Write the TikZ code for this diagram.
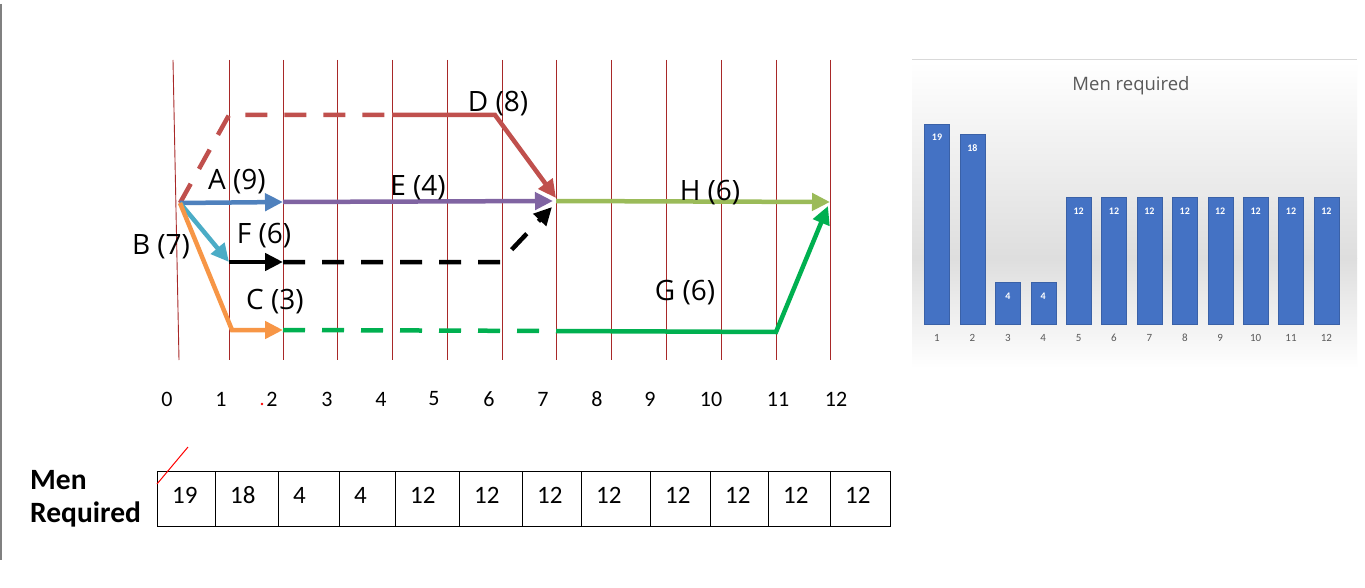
\documentclass[tikz,border=0pt]{standalone}
\usepackage{fontspec}
\setmainfont{Open Sans}
\newfontfamily\calfont{Carlito}
\usetikzlibrary{arrows.meta}

\definecolor{dred}{RGB}{192,80,77}
\definecolor{ablue}{RGB}{79,129,189}
\definecolor{epurple}{RGB}{128,100,162}
\definecolor{hgreen}{RGB}{155,187,89}
\definecolor{fcyan}{RGB}{75,172,198}
\definecolor{borange}{RGB}{247,150,70}
\definecolor{ggreen}{RGB}{0,176,80}
\definecolor{gridred}{RGB}{168,40,40}
\definecolor{barblue}{RGB}{68,114,196}
\definecolor{chartgray}{RGB}{89,89,89}

\begin{document}
\begin{tikzpicture}[
  x=1pt, y=-1pt,
  every node/.style={inner sep=0pt},
  grid/.style={gridred, line width=0.9pt},
  act/.style={line width=4.5pt, -{Triangle[length=18pt,width=17pt]}},
  plain/.style={line width=4.5pt},
  dsh/.style={dash pattern=on 22pt off 17pt},
  lab/.style={font=\fontsize{28}{32}\selectfont},
  tick/.style={font=\calfont\fontsize{22}{26}\selectfont},
  cell/.style={draw, line width=1.3pt, minimum height=55pt, anchor=north west},
  num/.style={font=\calfont\fontsize{25}{30}\selectfont, anchor=west},
  bar/.style={fill=barblue, draw=barblue!85!black, line width=0.3pt,
              minimum width=25pt, anchor=south},
  barnum/.style={font=\calfont\bfseries\fontsize{10}{12}\selectfont, white},
  barax/.style={font=\calfont\fontsize{11}{13}\selectfont, chartgray}
]
\useasboundingbox (0,0) rectangle (1365,588);
\fill[white] (0,0) rectangle (1365,588);
\draw[gray, line width=1.5pt] (1,4) -- (1,560);

% time grid
\draw[grid] (173,60) -- (179,360);
\foreach \x in {229,283,337,392,447,502,556,611,666,721,776,830}
  \draw[grid] (\x,60) -- (\x,360);

% time axis
\foreach \t/\x in {0/167,1/221,2/272,3/327,4/381,5/434,6/489,7/543,8/597,9/650,10/711,11/778,12/836}
  \node[tick] (t\t) at (\x,399) {\t};
\fill[red] (262,404) circle (1.3);

% events
\coordinate (n0)  at (180,203);
\coordinate (d1)  at (229,115);
\coordinate (d3)  at (392,115);
\coordinate (d6)  at (495,115);
\coordinate (n7)  at (556,201);
\coordinate (a2)  at (283,202);
\coordinate (h12) at (830,202);
\coordinate (f1)  at (229,262);
\coordinate (f2)  at (283,262);
\coordinate (f6)  at (500,262);
\coordinate (c1)  at (232,330);
\coordinate (c2)  at (283,330);
\coordinate (g7)  at (556,331);
\coordinate (g11) at (776,332);
\coordinate (g12) at (828,206);

% activities
\draw[plain, dred, dsh] (n0) -- (d1) -- (d3);
\draw[act, dred] (d3) -- (d6) -- ([yshift=3pt]n7);
\draw[act, epurple] (a2) -- ([xshift=-3pt]n7);
\draw[act, hgreen] (n7) -- (h12);
\draw[act, ablue] (n0) -- (a2);
\draw[plain, ggreen, dsh] (c2) -- (g7);
\draw[act, ggreen] (g7) -- (g11) -- (g12);
\draw[act, black, dsh] (f2) -- (f6) -- ([shift={(-4pt,-6pt)}]n7);
\draw[act, black] (f1) -- (f2);
\draw[act, fcyan] (n0) -- (f1);
\draw[act, borange] (n0) -- (c1) -- (c2);

% activity labels
\node[lab] (labD) at (498,104) {D (8)};
\node[lab] (labA) at (237,182) {A (9)};
\node[lab] (labE) at (418,188) {E (4)};
\node[lab] (labH) at (710,193) {H (6)};
\node[lab] (labF) at (264,236) {F (6)};
\node[lab] (labB) at (161,247) {B (7)};
\node[lab] (labC) at (275,302) {C (3)};
\node[lab] (labG) at (685,293) {G (6)};

% men required table
\node[font=\calfont\bfseries\fontsize{29.5}{33}\selectfont, align=left, anchor=west]
  (menlab) at (30,499) {Men\\Required};
\foreach \i/\xl/\xr/\v in {1/157/215/19,2/215/278/18,3/278/339/4,4/339/395/4,
    5/395/459/12,6/459/522/12,7/522/581/12,8/581/650/12,
    9/650/710/12,10/710/768/12,11/768/830/12,12/830/890/12}{
  \node[cell, minimum width={(\xr-\xl)*1pt}] (cell\i) at (\xl,471) {};
  \node[num] (m\i) at ([xshift=15pt,yshift=4pt]cell\i.west) {\v};
}
\draw[red, line width=1pt] (157,484) -- (188,447);

% bar chart
\shade[top color=white, bottom color=black!13] (912,62) rectangle (1357,258);
\shade[top color=black!13, bottom color=white] (912,258) rectangle (1357,368);
\draw[black!15, line width=1pt] (912,60) -- (1357,60);
\node[font=\fontsize{18.5}{22}\selectfont, chartgray] (title) at (1131,86) {Men required};
\foreach \i/\v in {1/19,2/18,3/4,4/4,5/12,6/12,7/12,8/12,9/12,10/12,11/12,12/12}{
  \node[bar, minimum height={\v*10.55pt}] (bar\i) at ({937+(\i-1)*35.4},324.3) {};
  \node[barnum] (bv\i) at ([yshift=-14pt]bar\i.north) {\v};
  \node[barax] (bx\i) at ({937+(\i-1)*35.4},338) {\i};
}
\end{tikzpicture}
\end{document}
